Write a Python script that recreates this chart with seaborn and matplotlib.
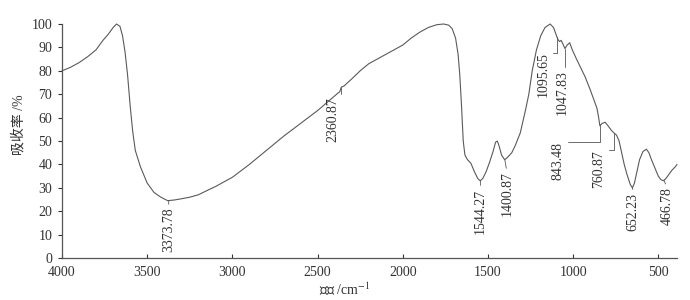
import numpy as np
import pandas as pd
import matplotlib
matplotlib.use("Agg")
import matplotlib.pyplot as plt
import seaborn as sns

wavenumber = [4000, 3950, 3900, 3850, 3800, 3760, 3730, 3700, 3680, 3660,
              3645, 3630, 3615, 3600, 3585, 3570, 3540, 3500, 3460, 3420,
              3380, 3340, 3300, 3250, 3200, 3150, 3100, 3050, 3000, 2900,
              2800, 2700, 2600, 2500, 2420, 2380, 2370, 2361, 2345, 2300,
              2250, 2200, 2100, 2050, 2000, 1950, 1900, 1850, 1800, 1760,
              1730, 1710, 1690, 1675, 1665, 1655, 1645, 1635, 1620, 1600,
              1580, 1560, 1545, 1530, 1510, 1490, 1470, 1455, 1445, 1435,
              1420, 1402, 1385, 1360, 1340, 1310, 1280, 1260, 1240, 1215,
              1190, 1165, 1135, 1115, 1100, 1090, 1080, 1070, 1060, 1048,
              1035, 1020, 1005, 980, 960, 930, 900, 875, 860, 850,
              843, 830, 812, 795, 775, 761, 745, 730, 715, 700,
              685, 665, 652, 640, 625, 610, 590, 570, 555, 540,
              520, 500, 485, 470, 455, 440, 420, 400, 390]
absorbance = [80, 81.5, 83.5, 86, 89, 93, 95.5, 98.5, 100, 99,
              95, 88, 78, 65, 54, 46, 39, 32, 28, 26,
              24.5, 24.8, 25.3, 26, 27, 28.8, 30.5, 32.5, 34.5, 40,
              46, 52, 57.5, 63, 68, 70.5, 71, 73, 73.5, 76.5,
              80, 83, 87, 89, 91, 94, 96.5, 98.5, 99.7, 100,
              99.5, 98, 94, 87, 78, 65, 50, 44, 42, 40.5,
              37, 34, 33, 34, 37, 41, 45.5, 49.5, 50, 48,
              44, 42, 43, 45, 48, 53.5, 63, 70, 80, 89,
              95, 98.5, 100, 98.5, 95.5, 93.5, 92.5, 93, 91.5, 89.5,
              91, 92, 89, 85, 82, 77.5, 72, 67, 64, 60,
              56.5, 57.5, 58, 56.5, 54.5, 53.5, 52.5, 50, 45, 40,
              36, 31.5, 30, 32, 37, 42, 45.5, 46.5, 45, 42,
              38.5, 35, 33.5, 33, 34, 35.5, 37.5, 39, 40]

peak_wn = [3373.78, 2360.87, 1544.27, 1400.87, 1095.65, 1047.83, 843.48, 760.87, 652.23, 466.78]
peak_labels = ["3373.78", "2360.87", "1544.27", "1400.87", "1095.65",
               "1047.83", "843.48", "760.87", "652.23", "466.78"]
# desplazamiento del texto (px) y tipo de guía
label_offsets = [(0, -7), (-8, -10), (0, -8), (2, -12), (-14, -16),
                 (-3, -22), (-42, -17), (-15, -17), (1, -5), (3, -7)]
angled = [False, True, False, False, True, True, True, True, False, False]

xticks = [4000, 3500, 3000, 2500, 2000, 1500, 1000, 500]
yticks = list(range(0, 101, 10))

df = pd.DataFrame({"wn": wavenumber, "abs": absorbance})

# === ESTILO ===
sns.set_style("ticks")
plt.rcParams['font.family'] = ['Liberation Serif', 'Noto Sans CJK SC']
plt.rcParams['mathtext.fontset'] = 'stix'
plt.rcParams['font.size'] = 10

fig = plt.figure(figsize=(6.9, 3.0), dpi=100)
ax = fig.add_axes([0.0899, 0.14, 0.8913, 0.78])

sns.lineplot(data=df, x="wn", y="abs", ax=ax, color="#5a5a5a", linewidth=0.8,
             sort=False, clip_on=False)

ax.set_xlim(4000, 390)
ax.set_ylim(0, 100)
ax.set_xticks(xticks)
ax.set_yticks(yticks)
ax.tick_params(axis='both', labelsize=10, colors="#333333", length=3, width=0.8)
ax.tick_params(axis='x', direction='in', pad=6)
ax.tick_params(axis='y', pad=4)
for s in ['top', 'right']:
    ax.spines[s].set_visible(False)
for s in ['left', 'bottom']:
    ax.spines[s].set_color("#555555")
    ax.spines[s].set_linewidth(0.9)

ax.set_xlabel("波数 /cm$^{-1}$", fontsize=10, color="#333333")
ax.set_ylabel("吸收率 /%", fontsize=10, color="#333333")
ax.xaxis.set_label_coords(0.46, -0.1)
ax.yaxis.set_label_coords(-0.06, 0.57)

# === ETIQUETAS DE PICOS ===
wn_sorted = np.array(wavenumber[::-1], dtype=float)
ab_sorted = np.array(absorbance[::-1], dtype=float)
for wn, lab, (dx, dy), ang in zip(peak_wn, peak_labels, label_offsets, angled):
    yv = np.interp(wn, wn_sorted, ab_sorted)
    style = "angle,angleA=0,angleB=90,rad=0" if ang else "arc3"
    ax.annotate(lab, xy=(wn, yv), xytext=(dx, dy), textcoords='offset pixels',
                rotation=90, ha='center', va='top', fontsize=10, color="#333333",
                arrowprops=dict(arrowstyle='-', color="#555555", lw=0.6,
                                shrinkA=0, shrinkB=0, relpos=(0.5, 1),
                                connectionstyle=style))

fig.savefig("out.png", dpi=100)
